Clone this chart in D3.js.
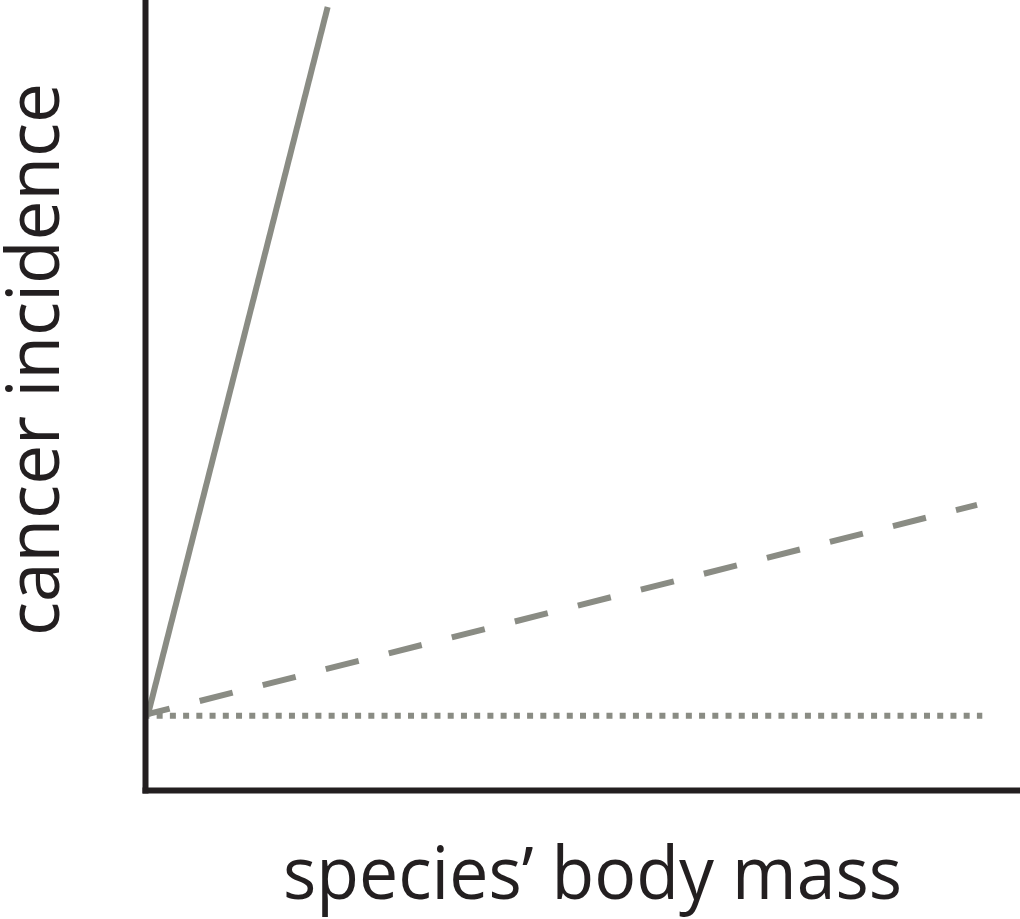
<!DOCTYPE html>
<html>
<head>
<meta charset="utf-8">
<script src="https://cdn.jsdelivr.net/npm/d3@7"></script>
<style>
  html, body { margin: 0; padding: 0; background: #fff; }
  .axis path { stroke: #231f20; stroke-width: 6; stroke-linecap: square; }
  .label { font-family: "Open Sans", sans-serif; fill: #231f20; }
</style>
</head>
<body>
<div id="main"></div>
<script>
const ctx = {
    w: 1020,
    h: 919,
    LINE_COLOR: "#8a8c84",
    LINE_WIDTH: 6,
    FONT_SIZE: 73,
};

// axis titles
const xTitle = "species’ body mass";
const yTitle = "cancer incidence";

// the three scenarios (x = body mass, y = cancer incidence, arbitrary units 0-100)
const steepX = [0.3, 20.9];
const steepY = [9.4, 99.1];
const modestX = [0.3, 95.2];
const modestY = [9.6, 36.1];
const flatX = [0.3, 95.8];
const flatY = [9.4, 9.4];

const xScale = d3.scaleLinear().domain([0, 100]).range([145, 1019]);
const yScale = d3.scaleLinear().domain([0, 100]).range([790, 0]);

function drawAxes(svg){
    svg.append("g").attr("class", "axis")
        .attr("transform", `translate(${xScale(0)},0)`)
        .call(d3.axisLeft(yScale).ticks(0).tickSize(0).tickSizeOuter(0));
    svg.append("g").attr("class", "axis")
        .attr("transform", `translate(0,${yScale(0)})`)
        .call(d3.axisBottom(xScale).ticks(0).tickSize(0).tickSizeOuter(0));
}

function drawLines(svg){
    const line = d3.line().x(d => xScale(d[0])).y(d => yScale(d[1]));
    const series = [
        {xs: steepX, ys: steepY, dash: null, offset: 0, cap: "butt"},
        {xs: modestX, ys: modestY, dash: "34,31", offset: 11.3, cap: "butt"},
        {xs: flatX, ys: flatY, dash: "6,7.23", offset: 4.2, cap: "butt"},
    ];
    svg.append("g").attr("id", "scenarios")
        .selectAll("path")
        .data(series)
        .enter()
        .append("path")
        .attr("d", d => line(d.xs.map((x, i) => [x, d.ys[i]])))
        .attr("fill", "none")
        .attr("stroke", ctx.LINE_COLOR)
        .attr("stroke-width", ctx.LINE_WIDTH)
        .attr("stroke-linecap", d => d.cap)
        .attr("stroke-dasharray", d => d.dash)
        .attr("stroke-dashoffset", d => d.offset);
}

function drawTitles(svg){
    svg.append("text").attr("class", "label")
        .attr("x", 283).attr("y", 899)
        .attr("font-size", ctx.FONT_SIZE)
        .attr("textLength", 619)
        .attr("lengthAdjust", "spacingAndGlyphs")
        .text(xTitle);
    svg.append("text").attr("class", "label")
        .attr("transform", "translate(59,636) rotate(-90)")
        .attr("font-size", ctx.FONT_SIZE)
        .attr("textLength", 553)
        .attr("lengthAdjust", "spacingAndGlyphs")
        .text(yTitle);
}

function createViz(){
    let svgEl = d3.select("#main").append("svg");
    svgEl.attr("width", ctx.w);
    svgEl.attr("height", ctx.h);
    drawLines(svgEl);
    drawAxes(svgEl);
    drawTitles(svgEl);
}

createViz();
</script>
</body>
</html>
